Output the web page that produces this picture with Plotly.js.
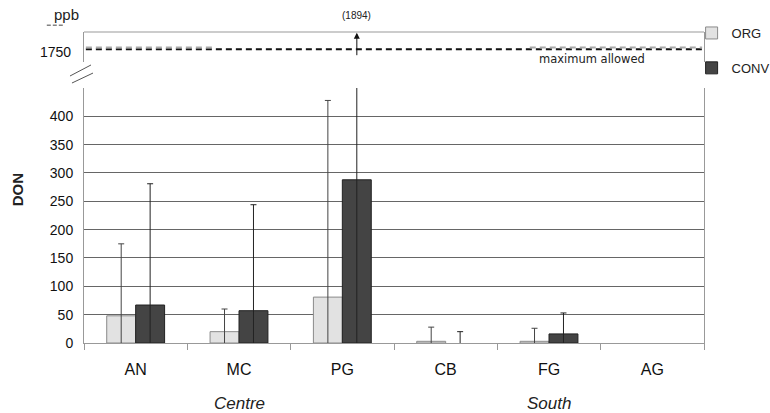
<!DOCTYPE html>
<html>
<head>
<meta charset="utf-8">
<script src="https://cdn.plot.ly/plotly-3.0.1.min.js"></script>
<style>html,body{margin:0;padding:0;background:#fff;}#chart{width:770px;height:413px;}</style>
</head>
<body>
<div id="chart"></div>
<script>
// Data
var categories = ['AN', 'MC', 'PG', 'CB', 'FG', 'AG'];
var orgMean = [48, 20, 81, 3, 3, null];
var orgSD   = [127, 40, 347, 25, 23, null];
var convMean = [67, 57, 288, 0, 16, null];
var convSD   = [214, 187, 1606, 20, 37, null];
var maxAllowed = 1750;
var offScaleValue = 1894;
var yTicks = [0, 50, 100, 150, 200, 250, 300, 350, 400, 450];
var yTickText = ['0', '50', '100', '150', '200', '250', '300', '350', '400', ''];
var regionLabels = ['Centre', 'South'];
var regionCenters = ['MC', 'FG'];

var F = 'Liberation Sans, Arial, sans-serif';
function borderFor(vals) { return vals.map(function(v){ return v > 0 ? 1 : 0; }); }

var traces = [
  {
    type: 'bar', name: 'ORG', x: categories, y: orgMean, legendgroup: 'a',
    marker: {color: '#e2e2e2', line: {color: '#8a8a8a', width: borderFor(orgMean)}},
    error_y: {type: 'data', array: orgSD, symmetric: true, color: '#444', thickness: 1, width: 3}
  },
  {
    type: 'bar', name: 'CONV', x: categories, y: convMean, legendgroup: 'b',
    marker: {color: '#444444', line: {color: '#222', width: borderFor(convMean)}},
    error_y: {type: 'data', array: convSD, symmetric: true, color: '#222', thickness: 1, width: 3}
  },
  // invisible trace to create the upper (broken-axis) panel
  {
    type: 'scatter', x: categories, y: categories.map(function(){return null;}), yaxis: 'y2',
    showlegend: false, hoverinfo: 'skip', mode: 'lines'
  }
];

var annotations = [
  {xref: 'paper', yref: 'paper', x: -0.106, y: 0.492, xanchor: 'center', yanchor: 'middle',
   text: '<b>DON</b>', textangle: -90, showarrow: false, font: {family: F, size: 15, color: '#222'}},
  {xref: 'x', yref: 'y2', x: 'PG', xshift: 14.5, y: offScaleValue, ax: 0, ay: 24,
   axref: 'pixel', ayref: 'pixel', text: '', showarrow: true, arrowhead: 2, arrowsize: 1.2,
   arrowwidth: 1, arrowcolor: '#111', standoff: 0},
  {xref: 'x', yref: 'y2', x: 'PG', xshift: 14.5, yshift: 17, y: offScaleValue, text: '(' + offScaleValue + ')',
   xanchor: 'center', showarrow: false, font: {family: F, size: 10, color: '#222'}},
  {xref: 'paper', yref: 'paper', x: 0.819, y: 0.913, xanchor: 'center', yanchor: 'middle',
   text: 'maximum allowed', showarrow: false,
   font: {family: 'DejaVu Sans, sans-serif', size: 11.5, color: '#222'}},
  {xref: 'paper', yref: 'paper', x: -0.029, y: 1.055, xanchor: 'center', yanchor: 'middle',
   text: 'ppb', showarrow: false, font: {family: F, size: 15, color: '#222'}},
  // tick label of the upper (broken) axis
  {xref: 'paper', yref: 'y2', x: -0.018, y: maxAllowed, yshift: -3, xanchor: 'right', yanchor: 'middle',
   text: String(maxAllowed), showarrow: false, font: {family: F, size: 14, color: '#111'}}
];
for (var i = 0; i < regionLabels.length; i++) {
  annotations.push({xref: 'x', yref: 'paper', x: regionCenters[i], y: -0.195, xanchor: 'center', yanchor: 'middle',
    text: '<i>' + regionLabels[i] + '</i>', showarrow: false, font: {family: F, size: 17, color: '#222'}});
}

var shapes = [
  // max allowed line
  {type: 'line', xref: 'paper', yref: 'y2', x0: 0.003, x1: 0.997, y0: maxAllowed, y1: maxAllowed,
   line: {color: '#111', width: 2, dash: '6px,4px'}},
  {type: 'line', xref: 'paper', yref: 'y2', x0: 0.003, x1: 0.211, y0: maxAllowed + 15, y1: maxAllowed + 15,
   line: {color: '#aaa', width: 2, dash: '6px,4px'}},
  {type: 'line', xref: 'paper', yref: 'y2', x0: 0.719, x1: 0.997, y0: maxAllowed + 15, y1: maxAllowed + 15,
   line: {color: '#aaa', width: 2, dash: '6px,4px'}},
  // top border of upper panel
  {type: 'line', xref: 'paper', yref: 'paper', x0: 0, x1: 1, y0: 1, y1: 1, line: {color: '#999', width: 1}},
  // axis break marks
  {type: 'line', xref: 'paper', yref: 'paper', x0: -0.0226, x1: 0.0113, y0: 0.8585, y1: 0.894, line: {color: '#555', width: 1}},
  {type: 'line', xref: 'paper', yref: 'paper', x0: -0.0194, x1: 0.0145, y0: 0.836, y1: 0.868, line: {color: '#555', width: 1}},
  // little dashes under ppb
  {type: 'line', xref: 'paper', yref: 'paper', x0: -0.06, x1: -0.031, y0: 1.022, y1: 1.022, line: {color: '#444', width: 1, dash: '4px,2px'}}
];

var layout = {
  width: 770, height: 413,
  margin: {l: 84, r: 66, t: 32, b: 70, autoexpand: false},
  paper_bgcolor: '#fff', plot_bgcolor: '#fff',
  barmode: 'group', bargap: 0.44, bargroupgap: 0,
  showlegend: true,
  legend: {x: 0.98, xanchor: 'left', y: 1.045, yanchor: 'top', traceorder: 'grouped', tracegroupgap: 15,
    font: {family: F, size: 13, color: '#222'}, bgcolor: 'rgba(0,0,0,0)'},
  xaxis: {type: 'category', categoryorder: 'array', categoryarray: categories,
    showline: true, linecolor: '#999', linewidth: 1, mirror: false,
    ticks: 'outside', tickson: 'boundaries', ticklen: 6, tickcolor: '#999', ticklabelstandoff: 12,
    tickfont: {family: F, size: 16, color: '#111'}, showgrid: false, zeroline: false},
  yaxis: {domain: [0, 0.82], range: [0, 450], tickvals: yTicks, ticktext: yTickText,
    showgrid: true, gridcolor: '#666', gridwidth: 1, zeroline: false,
    showline: true, linecolor: '#999', mirror: true, ticks: '', ticklabelstandoff: 7,
    tickfont: {family: F, size: 14, color: '#111'}},
  yaxis2: {domain: [0.9035, 1], range: [1640, 1900], showticklabels: false,
    showgrid: false, zeroline: false, showline: true, linecolor: '#999', mirror: true, ticks: '',
    anchor: 'x'},
  annotations: annotations,
  shapes: shapes
};

Plotly.newPlot('chart', traces, layout, {staticPlot: true, displayModeBar: false});
</script>
</body>
</html>
